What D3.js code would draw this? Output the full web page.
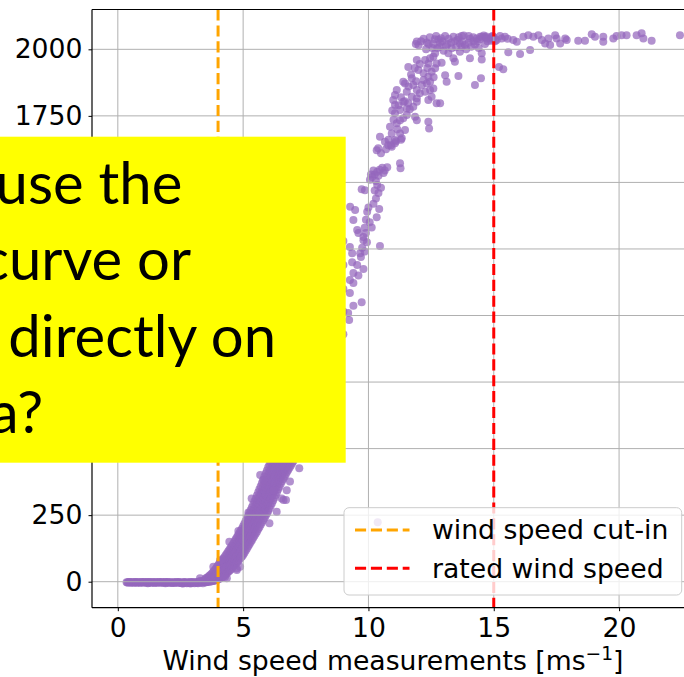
<!DOCTYPE html>
<html>
<head>
<meta charset="utf-8">
<script src="https://cdn.jsdelivr.net/npm/d3@7"></script>
<style>
  body { margin: 0; background: #ffffff; }
  svg { display: block; }
</style>
</head>
<body>
<svg id="chart" width="684" height="677"></svg>
<script>
// ---- Power curve measurements: [wind speed m/s, power kW] ----
const idlePoints = [
  [0.35,-2],[0.41,-3],[0.47,-1],[0.53,-3],[0.6,-2],[0.66,-4],[0.72,-1],[0.78,-3],[0.85,-2],[0.9,-4],
  [0.97,-2],[1.03,-1],[1.1,-3],[1.16,-2],[1.2,-6],[1.22,-4],[1.28,-1],[1.35,-3],[1.41,-2],[1.47,-5],
  [1.53,-2],[1.6,-3],[1.66,-1],[1.72,-4],[1.78,-2],[1.85,-3],[1.9,-6],[1.91,-1],[1.97,-4],[2.03,-2],
  [2.1,-3],[2.16,-5],[2.22,-2],[2.28,-3],[2.35,-1],[2.41,-4],[2.47,-2],[2.53,-5],[2.6,-3],[2.6,-7],
  [2.66,-1],[2.72,-4],[2.78,-2],[2.85,-5],[2.9,-7],[2.91,-3],[2.97,-1],[3.03,-4],[3.1,-2],[3.16,-4],
  [3.2,-6],[3.22,-1],[3.28,2],[3.34,-3],[3.4,1],[3.4,-6],[3.46,5],[3.52,-2],[3.58,8],
  [0.38,-3],[0.44,-1],[0.5,-4],[0.56,-2],[0.63,-3],[0.69,-1],[0.75,-4],[0.81,-2],[0.88,-3],[0.94,-1],
  [1.0,-4],[1.06,-2],[1.13,-3],[1.19,-1],[1.25,-2],[1.31,-4],[1.38,-2],[1.44,-3],[1.5,-1],[1.56,-4],
  [1.63,-2],[1.69,-3],[1.75,-1],[1.81,-4],[1.88,-2],[1.94,-3],[2.0,-1],[2.06,-4],[2.13,-2],[2.19,-3],
  [2.25,-5],[2.31,-2],[2.38,-4],[2.44,-1],[2.5,-3],[2.56,-6],[2.63,-2],[2.69,-4],[2.75,-6],[2.81,-3],
  [2.88,-1],[2.94,-5],[3.0,-2],[3.06,-6],[3.13,-3],[3.19,0],[3.25,-4],[3.31,3],[3.37,-1],[3.43,4],
  [3.49,0],[3.55,6]
];

// Rising part of the curve, grouped by wind-speed bin: [speed, [power values]]
const rampColumns = [
  [3.50,[-2,5,12]], [3.55,[-1,7,15]], [3.60,[0,9,18]], [3.65,[0,11,22]], [3.70,[1,13,26]],
  [3.75,[2,16,31]], [3.80,[3,19,36]], [3.85,[4,23,42]], [3.90,[5,26,48]], [3.95,[6,30,55]],
  [4.00,[8,26,44,62]], [4.05,[11,30,49,68]], [4.10,[13,33,54,74]], [4.15,[16,37,59,80]],
  [4.20,[19,41,64,86]], [4.25,[22,45,69,92]], [4.30,[27,51,75,99]], [4.35,[31,56,81,106]],
  [4.40,[36,62,87,113]], [4.45,[40,60,80,100,120]], [4.50,[45,66,86,107,128]],
  [4.55,[50,71,92,114,135]], [4.60,[56,78,100,121,143]], [4.65,[61,84,106,129,151]],
  [4.70,[67,90,113,136,159]], [4.75,[72,96,120,143,167]], [4.80,[78,102,126,151,175]],
  [4.85,[83,108,133,158,183]], [4.90,[89,115,140,166,191]], [4.95,[94,120,146,173,199]],
  [5.00,[100,127,154,181,208]], [5.05,[108,130,152,174,196,218]], [5.10,[116,138,161,183,206,228]],
  [5.15,[124,147,170,192,215,238]], [5.20,[132,155,178,202,225,248]], [5.25,[140,164,187,211,234,258]],
  [5.30,[148,172,196,221,245,269]], [5.35,[156,181,206,230,255,280]], [5.40,[164,189,214,240,265,290]],
  [5.45,[172,198,224,249,275,301]], [5.50,[180,206,233,259,286,312]], [5.55,[188,215,242,270,297,324]],
  [5.60,[197,225,252,280,308,336]], [5.65,[205,234,262,290,319,347]], [5.70,[214,243,272,301,330,359]],
  [5.75,[222,252,282,311,341,371]], [5.80,[231,256,281,307,332,357,383]],
  [5.85,[239,265,291,317,343,369,395]], [5.90,[248,274,300,327,353,380,406]],
  [5.95,[256,283,310,337,364,391,418]], [6.00,[265,292,320,347,375,402,430]],
  [6.05,[275,302,330,357,384,412,439]], [6.10,[285,312,339,366,394,421,448]],
  [6.15,[295,322,349,376,403,430,457]], [6.20,[305,332,358,385,412,439,466]],
  [6.25,[315,342,368,395,422,448,475]], [6.30,[326,352,378,405,431,458,484]],
  [6.35,[336,362,388,414,441,467,493]], [6.40,[347,373,398,424,450,476,502]],
  [6.45,[357,383,409,434,460,486,511]], [6.50,[368,393,418,444,469,495,520]],
  [6.55,[377,402,427,452,478,503,528]], [6.60,[386,411,436,461,486,511,536]],
  [6.65,[394,419,444,469,494,519,544]], [6.70,[403,428,453,478,502,527,552]],
  [6.75,[412,436,461,486,511,535,560]], [6.80,[420,445,469,494,519,543,568]],
  [6.85,[428,453,477,502,527,551,576]], [6.90,[436,461,485,510,535,559,584]],
  [6.95,[444,469,493,518,543,567,592]], [7.00,[452,477,501,526,551,575,600]],
  [7.2,[480,530,580,630]], [7.4,[520,575,630,690]], [7.6,[565,625,690,750]], [7.8,[610,675,745,810]],
  [8.0,[660,730,800,870]], [8.2,[710,785,860,930]], [8.4,[760,840,915,990]], [8.6,[815,895,975,1050]],
  [8.8,[870,955,1040,1120]], [9.0,[930,1015,1100,1190,1280]]
];

const rampOutliers = [
  [5.34,313],[5.21,260],[6.05,220],[6.34,263],[6.54,313],[6.71,307],[6.74,344],[6.87,376],
  [7.24,426],[4.45,150],[4.81,190],[4.75,50],[4.88,56],[3.81,56],[4.28,19],[5.68,401],
  [5.81,382],[6.21,344],[6.61,307],[3.28,13],[4.08,81],[4.35,13],[4.75,44],[10.37,223]
];

const upperPoints = [
  [9.19,1009],[9.23,983],[9.4,1037],[9.73,1050],[9.26,1085],[9.4,1122],[9.26,1133],[9.6,1150],
  [9.4,1160],[9.55,1190],[9.35,1200],[9.7,1220],[9.8,1175],[9.26,1257],[9.35,1234],[9.67,1234],
  [9.75,1255],[9.85,1240],[9.94,1275],[10.46,1261],[9.6,1310],[9.8,1283],[9.55,1321],[9.4,1359],
  [9.8,1295],[9.85,1330],[9.9,1360],[9.95,1390],[10.0,1406],[10.05,1350],[9.9,1310],[10.13,1331],
  [10.33,1369],[9.27,1409],[9.47,1396],[10.43,1400],[10.2,1420],[10.3,1440],[10.4,1460],[10.5,1480],
  [10.25,1470],[10.35,1490],[9.73,1474],[9.86,1471],[10.06,1510],[10.15,1520],[10.25,1530],
  [10.35,1540],[10.45,1548],[10.55,1555],[10.65,1545],[10.75,1557],[10.2,1545],[10.4,1525],
  [10.6,1535],[10.3,1505],[10.1,1530],[11.26,1572],[11.28,1553],[10.33,1621],[10.5,1610],
  [10.7,1625],[10.9,1640],[11.1,1655],[11.3,1660],[10.8,1660],[10.46,1672],[10.66,1653],
  [10.79,1640],[10.93,1634],[11.06,1647],[10.39,1628],[10.86,1709],[10.93,1684],[11.26,1684],
  [11.46,1697],[11.06,1659],[11.33,1666],[11.06,1760],[11.26,1734],[11.39,1741],[11.53,1753],
  [11.13,1722],[11.86,1747],[11.93,1734],[12.39,1728],[12.42,1703],[10.99,1810],[11.06,1791],
  [11.39,1803],[11.59,1797],[11.26,1772],[11.53,1778],[11.93,1803],[11.79,1784],[12.72,1797],
  [12.86,1797],[11.13,1847],[11.06,1828],[11.53,1841],[11.73,1822],[11.93,1816],[12.26,1841],
  [12.46,1847],[12.59,1853],[12.52,1822],[12.39,1810],[11.46,1872],[11.39,1878],[11.73,1891],
  [11.79,1866],[11.93,1847],[12.13,1866],[12.33,1872],[12.46,1878],[11.59,1934],[11.93,1960],
  [12.26,1960],[11.99,1922],[12.46,1966],[12.52,1916],[12.39,1897],[12.66,1985],[12.59,1972],
  [12.39,1947],[12.72,1947],[12.92,1950],[12.66,1929],[13.19,1985],[13.39,1966],[13.45,1953],
  [13.32,2004],[13.72,2010],[13.65,1991],[13.59,1900],[13.06,1903],[13.12,1878],[14.05,1966],
  [14.52,1985],[14.52,1962],[14.25,1866],[14.49,1891],[11.93,2029],[11.89,2020],[12.33,2026],
  [12.59,2020],[12.86,2025],[13.06,2050],[12.79,2037],[13.39,2047],[13.72,2050],[13.65,2022],
  [13.85,2016],[13.99,2025],[14.18,2045],[14.32,2041],[14.46,2047],[14.65,2045],[14.85,2041],
  [12.0,2015],[12.2,2040],[12.45,2045],[12.7,2050],[12.95,2030],[13.2,2040],[13.55,2035],
  [13.8,2052],[14.05,2040],[14.35,2030],[14.6,2052],[14.75,2030],[14.95,2050],[13.3,2025],
  [12.55,2005],[12.85,2010],[13.0,1995],[13.9,2000],[14.1,2010],[14.4,2005],
  [12.1,2030],[12.4,2020],[12.65,2038],[12.9,2042],[13.15,2020],[13.45,2030],[13.6,2045],
  [13.75,2028],[14.0,2050],[14.2,2030],[14.45,2038],[14.7,2048],[14.9,2032],[13.1,2012],
  [13.5,2008],[12.3,2000],[12.75,2005],[14.25,2018],[14.65,2020],[15.0,2045],[15.25,2050],
  [15.55,2040],[11.7,1905],[11.85,1930],[12.05,1945],[12.2,1910],[12.35,1930],[12.6,1895],
  [11.6,1860],[11.9,1880],[12.05,1835],[12.2,1885],[11.3,1820],[11.45,1805],[11.65,1775],
  [11.2,1790],[10.95,1770],[11.15,1700],[11.0,1735]
];

const plateauPoints = [
  [14.52,2047],[14.72,2041],[14.92,2047],[15.05,2030],[15.12,2035],[15.32,2041],[15.45,2047],
  [15.78,2035],[15.92,2028],[16.18,2047],[16.38,2053],[16.58,2047],[16.78,2053],[16.92,2035],
  [17.05,2022],[17.18,2041],[17.25,2016],[17.45,2053],[17.51,2041],[17.65,2022],[17.85,2041],
  [17.91,2035],[18.37,2032],[18.64,2032],[18.91,2057],[19.04,2047],[19.37,2047],[19.37,2028],
  [19.77,2041],[19.9,2050],[20.1,2053],[20.3,2053],[20.7,2053],[20.9,2060],[20.97,2041],
  [21.3,2032],[22.43,2053],[15.21,1934],[15.38,1925],[15.58,1989],[16.05,1982],[16.45,1997]
];

// Reference speeds and axis ticks
const cutInSpeed = 4;
const ratedSpeed = 15;
const xTicks = [0, 5, 10, 15, 20];
const yTicks = [0, 250, 500, 750, 1000, 1250, 1500, 1750, 2000];
// labels of the ticks that stay readable beside the callout box
const yTickLabels = [0, 250, 1750, 2000];
const xLabel = "Wind speed measurements [ms";
const xLabelSup = "\u22121";
const legendItems = [
  { label: "wind speed cut-in", color: "#ffa500" },
  { label: "rated wind speed", color: "#ff0000" }
];
const calloutLines = ["use the", "curve or", "directly on", "a?"];

// ---- Layout ----
const svg = d3.select("#chart");
const plot = { left: 92, right: 694, top: 9.5, bottom: 607.7 };
const FONT = "'DejaVu Sans', sans-serif";
const FS = 26.67;

const x = d3.scaleLinear().domain([-1.03, 22.99]).range([plot.left, plot.right]);
const y = d3.scaleLinear().domain([-97.7, 2149.6]).range([plot.bottom, plot.top]);

svg.append("rect").attr("width", 684).attr("height", 677).attr("fill", "#ffffff");

svg.append("defs").append("clipPath").attr("id", "plotClip")
  .append("rect")
  .attr("x", plot.left).attr("y", plot.top)
  .attr("width", plot.right - plot.left).attr("height", plot.bottom - plot.top);

// Collect all measurements
const points = [];
idlePoints.forEach(p => points.push(p));
rampColumns.forEach(([v, ps]) => ps.forEach(p => points.push([v, p])));
rampOutliers.forEach(p => points.push(p));
upperPoints.forEach(p => points.push(p));
plateauPoints.forEach(p => points.push(p));

const plotG = svg.append("g").attr("clip-path", "url(#plotClip)");

// scatter
plotG.append("g").selectAll("circle").data(points).join("circle")
  .attr("cx", d => x(d[0]))
  .attr("cy", d => y(d[1]))
  .attr("r", 4)
  .attr("fill", "#9467bd")
  .attr("fill-opacity", 0.72);

// grid (drawn above the scatter)
const grid = plotG.append("g").attr("stroke", "#b0b0b0").attr("stroke-width", 1);
grid.selectAll("line.gx").data(xTicks).join("line")
  .attr("x1", d => x(d)).attr("x2", d => x(d))
  .attr("y1", plot.top).attr("y2", plot.bottom);
grid.selectAll("line.gy").data(yTicks).join("line")
  .attr("y1", d => y(d)).attr("y2", d => y(d))
  .attr("x1", plot.left).attr("x2", plot.right);

// reference lines
const dash = "11.1,4.8";
[[cutInSpeed, legendItems[0].color], [ratedSpeed, legendItems[1].color]].forEach(([v, c]) => {
  plotG.append("line")
    .attr("x1", x(v)).attr("x2", x(v))
    .attr("y1", plot.top).attr("y2", plot.bottom)
    .attr("stroke", c).attr("stroke-width", 3)
    .attr("stroke-dasharray", dash);
});

// axes
const xAxis = svg.append("g")
  .attr("transform", `translate(0,${plot.bottom})`)
  .call(d3.axisBottom(x).tickValues(xTicks).tickFormat(d3.format("d"))
    .tickSize(3.5).tickPadding(7).tickSizeOuter(0));
const yAxis = svg.append("g")
  .attr("transform", `translate(${plot.left},0)`)
  .call(d3.axisLeft(y).tickValues(yTicks)
    .tickFormat(d => yTickLabels.includes(d) ? d3.format("d")(d) : "")
    .tickSize(3.5).tickPadding(6).tickSizeOuter(0));
[xAxis, yAxis].forEach(a => {
  a.select(".domain").remove();
  a.selectAll(".tick line").attr("stroke", "#000").attr("stroke-width", 1);
  a.selectAll(".tick text").attr("fill", "#000").style("font-family", FONT).style("font-size", FS + "px");
});
yAxis.selectAll(".tick text").filter(function () { return this.textContent === ""; }).remove();

// spines
const spines = svg.append("g").attr("stroke", "#000").attr("stroke-width", 1.2).attr("fill", "none");
spines.append("line").attr("x1", plot.left).attr("x2", plot.left).attr("y1", plot.top).attr("y2", plot.bottom);
spines.append("line").attr("x1", plot.left).attr("x2", plot.right).attr("y1", plot.bottom).attr("y2", plot.bottom);
spines.append("line").attr("x1", plot.left).attr("x2", plot.right).attr("y1", plot.top).attr("y2", plot.top);
spines.append("line").attr("x1", plot.right).attr("x2", plot.right).attr("y1", plot.top).attr("y2", plot.bottom);

// x axis title
const xt = svg.append("text")
  .attr("x", (plot.left + plot.right) / 2).attr("y", 670)
  .attr("text-anchor", "middle")
  .style("font-family", FONT).style("font-size", FS + "px").attr("fill", "#000");
xt.append("tspan").text(xLabel);
xt.append("tspan").attr("dy", -10).style("font-size", "18.7px").text(xLabelSup);
xt.append("tspan").attr("dy", 10).text("]");

// legend
const lg = svg.append("g");
const lgBox = { x: 344, y: 507.7, w: 337.7, h: 87.3 };
lg.append("rect")
  .attr("x", lgBox.x).attr("y", lgBox.y).attr("width", lgBox.w).attr("height", lgBox.h)
  .attr("rx", 5).attr("ry", 5)
  .attr("fill", "#ffffff").attr("fill-opacity", 0.8)
  .attr("stroke", "#cccccc").attr("stroke-width", 1);
legendItems.forEach((it, i) => {
  const cy = 530 + i * 38.3;
  lg.append("line")
    .attr("x1", 355).attr("x2", 409.5).attr("y1", cy).attr("y2", cy)
    .attr("stroke", it.color).attr("stroke-width", 3).attr("stroke-dasharray", dash);
  lg.append("text")
    .attr("x", 432).attr("y", cy + 9.3)
    .style("font-family", FONT).style("font-size", FS + "px").attr("fill", "#000")
    .text(it.label);
});

// yellow callout
const callout = svg.append("g");
callout.append("rect")
  .attr("x", 0).attr("y", 136.7).attr("width", 345.7).attr("height", 326)
  .attr("fill", "#ffff00");
const calloutEnds = [182.3, 191, 276, 43.3];
const calloutBaselines = [204, 280, 356.7, 433.3];
callout.selectAll("text").data(calloutLines).join("text")
  .attr("x", (d, i) => calloutEnds[i])
  .attr("y", (d, i) => calloutBaselines[i])
  .attr("text-anchor", "end")
  .style("font-family", "Lato, 'Open Sans', sans-serif")
  .style("font-size", "58px")
  .attr("fill", "#000")
  .text(d => d);
</script>
</body>
</html>
